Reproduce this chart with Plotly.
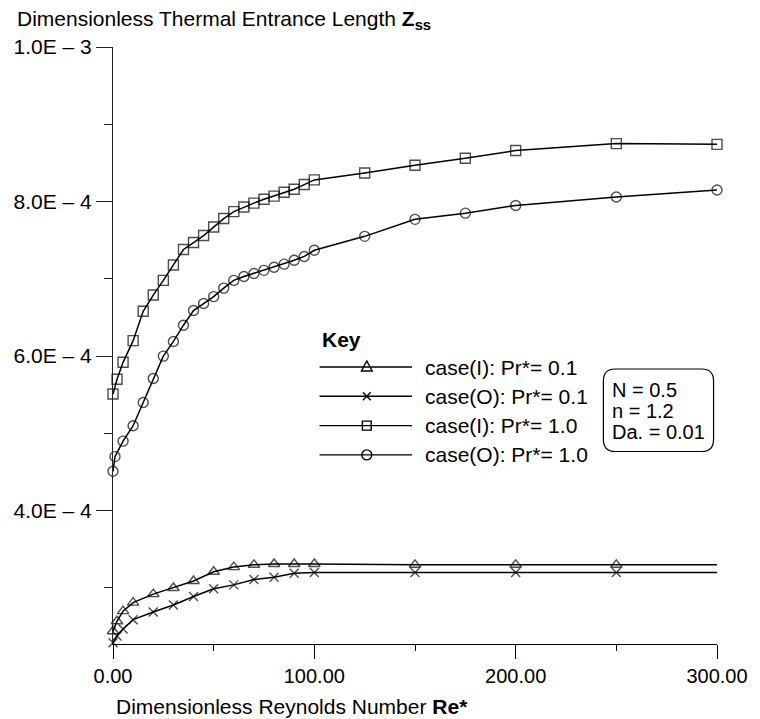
import plotly.graph_objects as go

# Dimensionless Reynolds number Re* for each series
re_I_pr01 = [0, 2, 5, 10, 20, 30, 40, 50, 60, 70, 80, 90, 100, 150, 200, 250, 300]
re_O_pr01 = [0, 2, 5, 10, 20, 30, 40, 50, 60, 70, 80, 90, 100, 150, 200, 250, 300]
re_I_pr10 = [0, 2, 5, 10, 15, 20, 25, 30, 35, 40, 45, 50, 55, 60, 65, 70, 75, 80,
             85, 90, 95, 100, 125, 150, 175, 200, 250, 300]
re_O_pr10 = [0, 1, 5, 10, 15, 20, 25, 30, 35, 40, 45, 50, 55, 60, 65, 70, 75, 80,
             85, 90, 95, 100, 125, 150, 175, 200, 250, 300]

# Thermal entrance length Z_ss
z_I_pr01 = [2.44e-4, 2.57e-4, 2.70e-4, 2.81e-4, 2.92e-4, 3.00e-4, 3.09e-4, 3.21e-4,
            3.27e-4, 3.30e-4, 3.31e-4, 3.31e-4, 3.31e-4, 3.30e-4, 3.30e-4, 3.30e-4, 3.30e-4]
z_O_pr01 = [2.29e-4, 2.38e-4, 2.47e-4, 2.59e-4, 2.69e-4, 2.78e-4, 2.89e-4, 2.99e-4,
            3.04e-4, 3.11e-4, 3.14e-4, 3.19e-4, 3.20e-4, 3.20e-4, 3.20e-4, 3.20e-4, 3.20e-4]
z_I_pr10 = [5.51e-4, 5.70e-4, 5.92e-4, 6.20e-4, 6.58e-4, 6.79e-4, 6.98e-4, 7.18e-4,
            7.38e-4, 7.47e-4, 7.56e-4, 7.67e-4, 7.78e-4, 7.87e-4, 7.93e-4, 7.98e-4,
            8.03e-4, 8.07e-4, 8.12e-4, 8.16e-4, 8.22e-4, 8.28e-4, 8.37e-4, 8.47e-4,
            8.56e-4, 8.66e-4, 8.75e-4, 8.74e-4]
z_O_pr10 = [4.51e-4, 4.70e-4, 4.90e-4, 5.10e-4, 5.40e-4, 5.71e-4, 6.00e-4, 6.19e-4,
            6.40e-4, 6.59e-4, 6.68e-4, 6.77e-4, 6.88e-4, 6.98e-4, 7.03e-4, 7.07e-4,
            7.11e-4, 7.15e-4, 7.19e-4, 7.24e-4, 7.29e-4, 7.37e-4, 7.55e-4, 7.77e-4,
            7.85e-4, 7.95e-4, 8.06e-4, 8.15e-4]

series_names = ["case(I): Pr*= 0.1", "case(O): Pr*= 0.1",
                "case(I): Pr*= 1.0", "case(O): Pr*= 1.0"]
series_symbols = ["triangle", "x", "square", "circle"]

x_tickvals = [0, 100, 200, 300]
x_ticktext = ["0.00", "100.00", "200.00", "300.00"]
y_tickvals = [4e-4, 6e-4, 8e-4, 1e-3]
y_ticktext = ["4.0E – 4", "6.0E – 4", "8.0E – 4", "1.0E – 3"]

params_text = ["N = 0.5", "n = 1.2", "Da. = 0.01"]

FONT = "Liberation Sans, Arial, sans-serif"
W, H = 760, 719
ML, MR, MT, MB = 113, 33, 47, 75
PW, PH = W - ML - MR, H - MT - MB


def px(xp):
    return (xp - ML) / PW


def py(yp):
    return (H - MB - yp) / PH


def P(xp, yp):
    return f"{px(xp):.5f},{py(yp):.5f}"


PLOTLY_SYMBOL = {"triangle": "triangle-up-open", "x": "x-thin-open",
                 "square": "square-open", "circle": "circle-open"}
PLOT_SIZE = {"triangle": 10, "x": 9, "square": 10, "circle": 10}

fig = go.Figure()


def add_series(x, y, name, sym, hide_last=False):
    sizes = [PLOT_SIZE[sym]] * len(x)
    if hide_last:
        sizes[-1] = 0
    fig.add_trace(go.Scatter(
        x=x, y=y, name=name, mode="lines+markers", showlegend=False,
        line=dict(color="black", width=1.5),
        marker=dict(symbol=PLOTLY_SYMBOL[sym], size=sizes, color="black",
                    line=dict(color="black", width=1.4)),
        cliponaxis=False,
    ))


add_series(re_I_pr01, z_I_pr01, series_names[0], series_symbols[0], hide_last=True)
add_series(re_O_pr01, z_O_pr01, series_names[1], series_symbols[1], hide_last=True)
add_series(re_I_pr10, z_I_pr10, series_names[2], series_symbols[2])
add_series(re_O_pr10, z_O_pr10, series_names[3], series_symbols[3])

# ---- key (legend) drawn with shapes so the sample lines can be long ----
KEY_LINE_X0, KEY_LINE_X1, KEY_MARK_X, KEY_TEXT_X = 323, 417, 371, 428
KEY_TITLE_Y, KEY_ROW0_Y, KEY_ROW_DY = 339, 367, 29.3
key_line = dict(color="black", width=1.4)


def key_symbol(sym, cx, cy):
    if sym == "triangle":
        path = f"M{P(cx - 5.5, cy + 4)} L{P(cx + 5.5, cy + 4)} L{P(cx, cy - 6)} Z"
    elif sym == "x":
        path = (f"M{P(cx - 4, cy - 4)} L{P(cx + 4, cy + 4)} "
                f"M{P(cx - 4, cy + 4)} L{P(cx + 4, cy - 4)}")
    elif sym == "square":
        path = (f"M{P(cx - 4.5, cy - 4.5)} L{P(cx + 4.5, cy - 4.5)} "
                f"L{P(cx + 4.5, cy + 4.5)} L{P(cx - 4.5, cy + 4.5)} Z")
    else:
        fig.add_shape(type="circle", xref="paper", yref="paper",
                      x0=px(cx - 5), x1=px(cx + 5), y0=py(cy + 5), y1=py(cy - 5),
                      line=key_line)
        return
    fig.add_shape(type="path", xref="paper", yref="paper", path=path, line=key_line)


fig.add_annotation(text="<b>Key</b>", xref="paper", yref="paper",
                   x=px(KEY_LINE_X0), y=py(KEY_TITLE_Y), xanchor="left", yanchor="middle",
                   showarrow=False, font=dict(family=FONT, size=21, color="black"))
for i, (name, sym) in enumerate(zip(series_names, series_symbols)):
    ry = KEY_ROW0_Y + KEY_ROW_DY * i
    fig.add_shape(type="line", xref="paper", yref="paper",
                  x0=px(KEY_LINE_X0), x1=px(KEY_LINE_X1), y0=py(ry), y1=py(ry),
                  line=key_line)
    key_symbol(sym, KEY_MARK_X, ry)
    fig.add_annotation(text=name, xref="paper", yref="paper",
                       x=px(KEY_TEXT_X), y=py(ry), xanchor="left", yanchor="middle",
                       showarrow=False, font=dict(family=FONT, size=21, color="black"))

# ---- rounded parameter box ----
bx0, bx1, by0, by1, r = 611.5, 723.5, 369, 451.5, 12
path = (f"M{P(bx0 + r, by0)} L{P(bx1 - r, by0)} Q{P(bx1, by0)} {P(bx1, by0 + r)} "
        f"L{P(bx1, by1 - r)} Q{P(bx1, by1)} {P(bx1 - r, by1)} "
        f"L{P(bx0 + r, by1)} Q{P(bx0, by1)} {P(bx0, by1 - r)} "
        f"L{P(bx0, by0 + r)} Q{P(bx0, by0)} {P(bx0 + r, by0)} Z")
fig.add_shape(type="path", xref="paper", yref="paper", path=path,
              line=dict(color="black", width=1.2))

for i, t in enumerate(params_text):
    fig.add_annotation(text=t, xref="paper", yref="paper",
                       x=px(618), y=py(390 + 21 * i), xanchor="left", yanchor="middle",
                       showarrow=False, font=dict(family=FONT, size=20, color="black"))

# ---- axis titles ----
fig.add_annotation(text="Dimensionless Thermal Entrance Length <b>Z<sub>ss</sub></b>",
                   xref="paper", yref="paper", x=px(13), y=py(20),
                   xanchor="left", yanchor="middle", showarrow=False,
                   font=dict(family=FONT, size=21, color="black"))
fig.add_annotation(text="Dimensionless Reynolds Number <b>Re*</b>",
                   xref="paper", yref="paper", x=px(114), y=py(707),
                   xanchor="left", yanchor="middle", showarrow=False,
                   font=dict(family=FONT, size=21, color="black"))

fig.update_layout(
    width=W, height=H,
    margin=dict(l=ML, r=MR, t=MT, b=MB, pad=0),
    paper_bgcolor="white", plot_bgcolor="white",
    font=dict(family=FONT, size=20, color="black"),
    showlegend=False,
    xaxis=dict(
        range=[0, 300], showgrid=False, zeroline=False,
        showline=True, linecolor="black", linewidth=1.2,
        ticks="outside", ticklen=14, tickwidth=1.2, tickcolor="black",
        tickmode="array", tickvals=x_tickvals, ticktext=x_ticktext,
        minor=dict(ticks="outside", ticklen=6, tickwidth=1.2, tickcolor="black",
                   tickvals=[50, 150, 250]),
        tickfont=dict(size=20),
    ),
    yaxis=dict(
        range=[2.275e-4, 1.0e-3], showgrid=False, zeroline=False,
        showline=True, linecolor="#222", linewidth=1.2,
        ticks="outside", ticklen=16, tickwidth=1.2, tickcolor="#222",
        tickmode="array", tickvals=y_tickvals, ticktext=y_ticktext,
        minor=dict(ticks="outside", ticklen=8, tickwidth=1.2, tickcolor="#222",
                   tickvals=[3e-4, 5e-4, 7e-4, 9e-4]),
        tickfont=dict(size=21),
    ),
)

fig.write_html("out.html")
